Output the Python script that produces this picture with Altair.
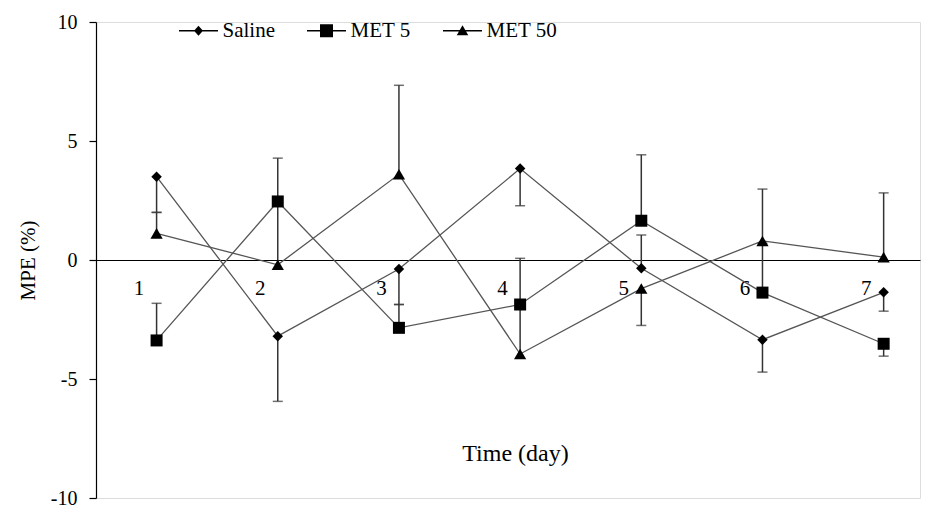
import altair as alt
import pandas as pd

days = [1, 2, 3, 4, 5, 6, 7]
groups = ["Saline", "MET 5", "MET 50"]

saline = [3.50, -3.20, -0.38, 3.84, -0.35, -3.35, -1.36]
saline_err_end = [2.00, -5.94, -1.87, 2.28, 1.05, -4.71, -2.15]

met5 = [-3.38, 2.46, -2.85, -1.87, 1.65, -1.37, -3.52]
met5_err_end = [-1.82, 4.28, -1.87, 0.07, 4.42, 0.70, -4.04]

met50 = [1.12, -0.20, 3.60, -3.95, -1.20, 0.80, 0.12]
met50_err_end = [2.00, 2.40, 7.34, -1.90, -2.75, 2.98, 2.82]

rows = []
for g, vals, ends in [("Saline", saline, saline_err_end),
                      ("MET 5", met5, met5_err_end),
                      ("MET 50", met50, met50_err_end)]:
    for d, v, e in zip(days, vals, ends):
        rows.append({"day": d, "group": g, "mpe": v, "err_end": e})
df = pd.DataFrame(rows)

FONT = "Liberation Serif"

x_axis = alt.Axis(values=days, format="d", offset=-238, ticks=False, grid=False,
                  domainColor="black", domainWidth=1.2,
                  labelOffset=-18, labelPadding=17, labelFont=FONT,
                  labelFontSize=21, labelColor="black",
                  title="Time (day)", titleFont=FONT, titleFontSize=24,
                  titleFontWeight="normal", titleColor="black",
                  titlePadding=143, titleX=419)
y_axis = alt.Axis(values=[-10, -5, 0, 5, 10], grid=False,
                  labelExpr="toString(datum.value)",
                  domainColor="black", domainWidth=1.2, tickColor="black",
                  tickSize=7, tickWidth=1.2, labelFont=FONT, labelFontSize=20,
                  labelColor="black", labelPadding=12,
                  title="MPE (%)", titleFont=FONT, titleFontSize=21,
                  titleFontWeight="normal", titleColor="black",
                  titlePadding=12)

xs = alt.Scale(domain=[0.5, 7.3], nice=False, zero=False)
ys = alt.Scale(domain=[-10, 10], nice=False)

X = alt.X("day:Q", scale=xs, axis=x_axis)
Y = alt.Y("mpe:Q", scale=ys, axis=y_axis)

base = alt.Chart(df)

lines = base.mark_line(color="#555555", strokeWidth=1.3).encode(
    x=X, y=Y, detail="group:N", order="day:Q")

err = base.mark_rule(color="#333333", strokeWidth=1.5).encode(
    x="day:Q", y="mpe:Q", y2="err_end:Q")

caps = base.mark_tick(orient="horizontal", color="#333333",
                      thickness=1.5, size=10).encode(
    x="day:Q", y="err_end:Q")

marker_shapes = {"Saline": ("diamond", 110), "MET 5": ("square", 144),
                 "MET 50": ("triangle-up", 150)}
point_layers = []
for g in groups:
    shp, sz = marker_shapes[g]
    point_layers.append(
        base.transform_filter(alt.datum.group == g).mark_point(
            filled=True, color="black", opacity=1, shape=shp, size=sz
        ).encode(x="day:Q", y="mpe:Q"))

# legend symbol = thin bar (line) + filled marker, both as filled sub-paths
bar = "M-3.9,-0.13L3.9,-0.13L3.9,0.13L-3.9,0.13Z"
legend_paths = [
    bar + "M0,-1L0.9,0L0,1L-0.9,0Z",
    bar + "M-1.3,-1.3L1.3,-1.3L1.3,1.3L-1.3,1.3Z",
    bar + "M0,-1.1L1.15,0.9L-1.15,0.9Z",
]

legend_layer = base.transform_filter("datum.day < 0").mark_point(
    filled=True, color="black", opacity=1).encode(
    x="day:Q", y="mpe:Q",
    shape=alt.Shape("group:N", scale=alt.Scale(domain=groups, range=legend_paths),
                    legend=alt.Legend(orient="none", legendX=92, legendY=-2,
                                      direction="horizontal", title=None,
                                      labelFont=FONT, labelFontSize=21,
                                      labelColor="black", symbolSize=100,
                                      symbolFillColor="black",
                                      symbolOpacity=1,
                                      symbolStrokeWidth=0, labelOffset=13.5,
                                      columnPadding=32)))

chart = alt.layer(lines, err, caps, *point_layers, legend_layer).properties(
    width=824, height=476, autosize="none",
    padding={"left": 88, "top": 14, "right": 5, "bottom": 10}
).configure_view(stroke=None).configure(background="white")

chart.save("out.html", embed_options={"renderer": "svg", "actions": False})
